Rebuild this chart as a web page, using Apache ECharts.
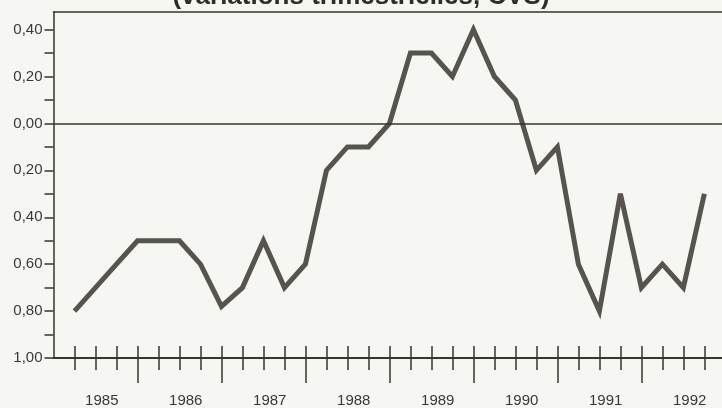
<!DOCTYPE html>
<html>
<head>
<meta charset="utf-8">
<script src="https://cdn.jsdelivr.net/npm/echarts@6/dist/echarts.min.js"></script>
<style>
  html, body { margin: 0; padding: 0; background: #f6f6f3; }
  #chart { width: 722px; height: 408px; }
</style>
</head>
<body>
<div id="chart"></div>
<script>
// quarterly change, 1985 T1 .. 1992 T3 (values below zero printed without sign)
const values = [
  -0.80, -0.70, -0.60, -0.50,
  -0.50, -0.50, -0.60, -0.78,
  -0.70, -0.50, -0.70, -0.60,
  -0.20, -0.10, -0.10, 0.00,
  0.30, 0.30, 0.20, 0.40,
  0.20, 0.10, -0.20, -0.10,
  -0.60, -0.80, -0.30, -0.70,
  -0.60, -0.70, -0.30
]
const years = ['1985', '1986', '1987', '1988', '1989', '1990', '1991', '1992']
const yLabelValues = [-1.0, -0.8, -0.6, -0.4, -0.2, 0.0, 0.2, 0.4]
const yTickValues = [-1.0, -0.9, -0.8, -0.7, -0.6, -0.5, -0.4, -0.3, -0.2, -0.1, 0.0, 0.1, 0.2, 0.3, 0.4]
const title = '(variations trimestrielles, CVS)'

const colors = {
  line: '#575450',
  axis: '#36342f',
  text: '#3a3834'
}

// quarter index of each tick / label
const quarterTicks = values.map((v, i) => i).concat([31])
const yearTicks = years.map((y, k) => k * 4 + 3)
const yearLabelPos = years.map((y, k) => k * 4 + 1.3)

const chart = echarts.init(document.getElementById('chart'))

const axisLine = { show: true, onZero: false, lineStyle: { color: colors.axis, width: 1.5 } }

const baseX = {
  type: 'value',
  position: 'bottom',
  min: -1,
  max: 30.84,
  splitLine: { show: false },
  axisLabel: { show: false },
  axisLine: axisLine,
  axisTick: { show: false }
}

const option = {
  backgroundColor: '#f6f6f3',
  animation: false,
  textStyle: { fontFamily: 'Liberation Sans, Arial, sans-serif' },
  graphic: [
    {
      type: 'text',
      left: 'center',
      top: -16,
      style: {
        text: title,
        font: 'bold 26px "Liberation Sans", Arial, sans-serif',
        fill: '#2f2d2a'
      }
    }
  ],
  grid: { left: 53.5, right: 0, top: 12, bottom: 49 },
  xAxis: [
    // main axis with short ticks crossing upward + year labels
    Object.assign({}, baseX, {
      axisTick: {
        show: true,
        inside: true,
        length: 12,
        customValues: quarterTicks,
        lineStyle: { color: colors.axis, width: 1.5 }
      },
      axisLabel: {
        show: true,
        customValues: yearLabelPos,
        formatter: (v) => years[Math.round((v - 1.3) / 4)],
        color: colors.text,
        fontSize: 15,
        margin: 35
      }
    }),
    // short ticks going downward
    Object.assign({}, baseX, {
      axisTick: {
        show: true,
        length: 12,
        customValues: quarterTicks,
        lineStyle: { color: colors.axis, width: 1.5 }
      }
    }),
    // long year-end ticks
    Object.assign({}, baseX, {
      axisTick: {
        show: true,
        length: 25,
        customValues: yearTicks,
        lineStyle: { color: colors.axis, width: 1.5 }
      }
    }),
    // top frame
    Object.assign({}, baseX, { position: 'top' })
  ],
  yAxis: {
    type: 'value',
    min: -1.0,
    max: 0.475,
    splitLine: { show: false },
    axisLine: axisLine,
    axisTick: {
      show: true,
      length: 9,
      customValues: yTickValues,
      lineStyle: { color: colors.axis, width: 1.5 }
    },
    axisLabel: {
      customValues: yLabelValues,
      formatter: (v) => Math.abs(v).toFixed(2).replace('.', ','),
      color: colors.text,
      fontSize: 15,
      margin: 11
    }
  },
  series: [
    {
      type: 'line',
      data: values.map((v, i) => [i, v]),
      showSymbol: false,
      symbol: 'none',
      lineStyle: { color: colors.line, width: 5, join: 'miter', miterLimit: 4 },
      markLine: {
        silent: true,
        symbol: ['none', 'none'],
        label: { show: false },
        lineStyle: { color: colors.axis, width: 1.5, type: 'solid' },
        data: [{ yAxis: 0 }, { yAxis: -1 }]
      },
      z: 3
    }
  ]
}

chart.setOption(option)
</script>
</body>
</html>
